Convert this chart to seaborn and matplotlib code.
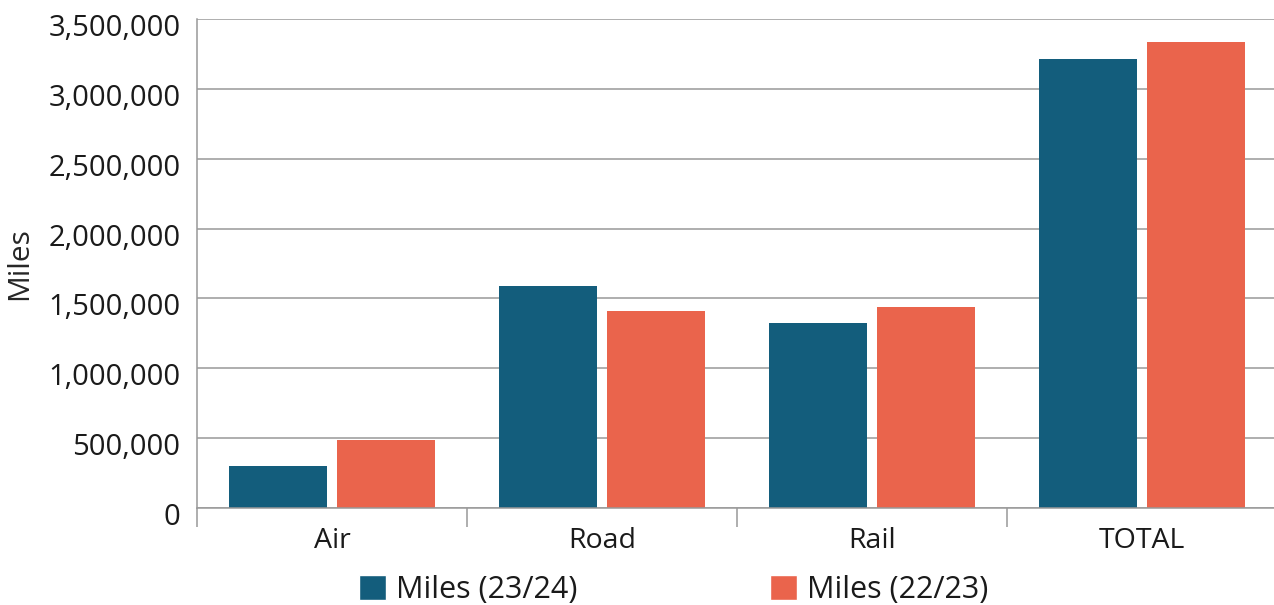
import pandas as pd
import seaborn as sns
import matplotlib
matplotlib.use('Agg')
import matplotlib.pyplot as plt
import matplotlib.transforms as mtransforms
from matplotlib.ticker import FuncFormatter, FixedLocator
from matplotlib.patches import Patch

# Datos
categories = ['Air', 'Road', 'Rail', 'TOTAL']
miles_2324 = [300000, 1590000, 1325000, 3215000]
miles_2223 = [487000, 1410000, 1440000, 3337000]
series = ['Miles (23/24)', 'Miles (22/23)']
colors = ['#135d7c', '#ea644c']

df = pd.DataFrame({
    'Category': categories * 2,
    'Miles': miles_2324 + miles_2223,
    'Series': [series[0]] * 4 + [series[1]] * 4,
})

sns.set_style('white')
plt.rcParams['font.family'] = ['Open Sans', 'DejaVu Sans']
plt.rcParams['text.color'] = '#1a1a1a'

fig = plt.figure(figsize=(12.74, 6.05), dpi=100)
ax = fig.add_axes([197 / 1274, 1 - 508 / 605, 1080 / 1274, 489 / 605])

sns.barplot(data=df, x='Category', y='Miles', hue='Series', order=categories,
            hue_order=series, palette=colors, width=0.8, gap=0.09,
            saturation=1, linewidth=0, ax=ax, legend=False)

ax.set_xlim(-0.5, 3.5)
ax.set_ylim(0, 3500000)
ax.set_yticks(range(0, 3500001, 500000))
ax.yaxis.set_major_formatter(FuncFormatter(lambda v, p: f'{int(v):,}'))
ax.grid(axis='y', color='#999999', linewidth=1.1)
ax.set_axisbelow(True)

for s in ['top', 'right']:
    ax.spines[s].set_visible(False)
for s in ['left', 'bottom']:
    ax.spines[s].set_color('#999999')
    ax.spines[s].set_linewidth(1.1)

ax.tick_params(axis='y', length=0, pad=12, labelsize=21, labelcolor='#1a1a1a')
ax.tick_params(axis='x', which='major', length=0, pad=14, labelsize=20.5, labelcolor='#1a1a1a')
ax.xaxis.set_minor_locator(FixedLocator([-0.5, 0.5, 1.5, 2.5, 3.5]))
ax.tick_params(axis='x', which='minor', bottom=True, length=13.7, width=1.1,
               color='#999999', direction='out')

# las etiquetas del eje y quedan un poco por debajo de las líneas
shift = mtransforms.ScaledTranslation(0, -6 / 100, fig.dpi_scale_trans)
for lbl in ax.get_yticklabels():
    lbl.set_transform(lbl.get_transform() + shift)

ax.set_xlabel('')
ax.set_ylabel('Miles', fontsize=21.5, labelpad=10)

handles = [Patch(facecolor=c, label=l) for c, l in zip(colors, series)]
fig.legend(handles=handles, loc='center', bbox_to_anchor=(674 / 1274, 1 - 590 / 605),
           ncol=2, frameon=False, fontsize=22, handlelength=0.88, handleheight=0.88,
           handletextpad=0.33, columnspacing=6.3, borderaxespad=0, borderpad=0)

plt.savefig('out.png', dpi=100)
